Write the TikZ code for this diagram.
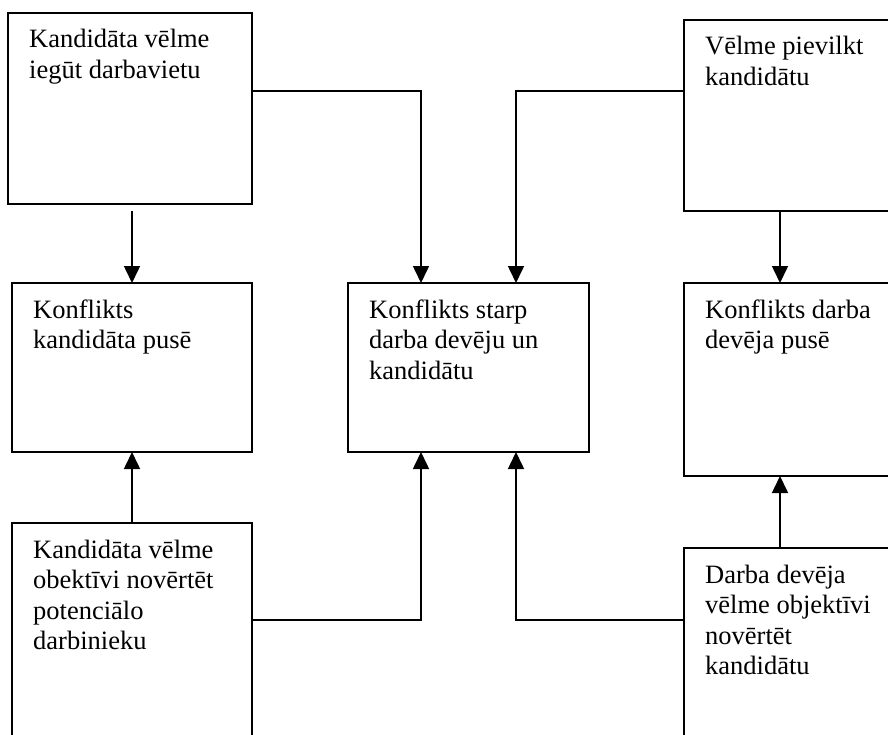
\documentclass[tikz,border=0pt]{standalone}
\usepackage{fontspec}
\setmainfont{Liberation Serif}
\usetikzlibrary{arrows.meta,calc}
\tikzset{
  box/.style={draw, line width=1.6pt, rectangle, inner sep=0pt, outer sep=0pt, anchor=north west},
  lbl/.style={anchor=base west, inner sep=0pt, font=\fontsize{26.5}{30.5}\selectfont},
  arr/.style={line width=1.6pt, -{Triangle[length=17pt,width=16pt]}},
  ln/.style={line width=1.6pt}
}
\newcommand{\boxtext}[1]{\parbox[t]{260pt}{#1}}
\begin{document}
\begin{tikzpicture}[x=1pt,y=-1pt]
\path[use as bounding box] (0,0) rectangle (888,735);
\clip (0,0) rectangle (888,735);
\fill[white] (0,0) rectangle (888,735);
% boxes
\node[box, minimum width=244pt, minimum height=191pt] (A) at (8,13) {};
\node[box, minimum width=230pt, minimum height=191pt] (C) at (684,20) {};
\node[box, minimum width=240pt, minimum height=169pt] (B) at (12,283) {};
\node[box, minimum width=241pt, minimum height=169pt] (M) at (348,283) {};
\node[box, minimum width=230pt, minimum height=193pt] (R) at (684,283) {};
\node[box, minimum width=240pt, minimum height=250pt] (D) at (12,523) {};
\node[box, minimum width=230pt, minimum height=250pt] (E) at (684,548) {};
% labels
\node[lbl] (tA) at ($(A.north west)+(21,35)$) {\boxtext{Kandidāta vēlme\\iegūt darbavietu}};
\node[lbl] (tC) at ($(C.north west)+(21,35)$) {\boxtext{Vēlme pievilkt\\kandidātu}};
\node[lbl] (tB) at ($(B.north west)+(21,35)$) {\boxtext{Konflikts\\kandidāta pusē}};
\node[lbl] (tM) at ($(M.north west)+(21,35)$) {\boxtext{Konflikts starp\\darba devēju un\\kandidātu}};
\node[lbl] (tR) at ($(R.north west)+(21,35)$) {\boxtext{Konflikts darba\\devēja pusē}};
\node[lbl] (tD) at ($(D.north west)+(21,35)$) {\boxtext{Kandidāta vēlme\\obektīvi novērtēt\\potenciālo\\darbinieku}};
\node[lbl] (tE) at ($(E.north west)+(21,35)$) {\boxtext{Darba devēja\\vēlme objektīvi\\novērtēt\\kandidātu}};
% connectors
\draw[arr] ([yshift=-7pt]A.south -| B.north) -- (B.north);
\draw[arr] ($(A.north east)+(0,78)$) -| ([xshift=-47.5pt]M.north);
\draw[arr] ($(C.north west)+(0,71)$) -| ([xshift=47.5pt]M.north);
\draw[arr] ($(C.south west)+(96,0)$) -- ($(R.north west)+(96,0)$);
\draw[arr] (D.north) -- (B.south);
\draw[arr] ($(D.north east)+(0,97)$) -| ([xshift=-47.5pt]M.south);
\draw[arr] ($(E.north west)+(0,72)$) -| ([xshift=47.5pt]M.south);
\draw[arr] ($(E.north west)+(96,0)$) -- ($(R.south west)+(96,0)$);
\end{tikzpicture}
\end{document}
